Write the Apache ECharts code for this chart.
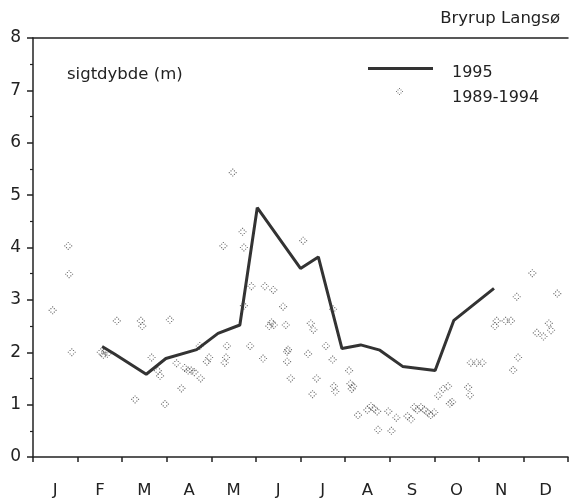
<!DOCTYPE html>
<html>
<head>
<meta charset="utf-8">
<script src="https://cdn.jsdelivr.net/npm/echarts@6/dist/echarts.min.js"></script>
<style>html,body{margin:0;padding:0;background:#fff}#c{width:570px;height:502px}</style>
</head>
<body>
<div id="c"></div>
<script>
var monthLabels = ['J','F','M','A','M','J','J','A','S','O','N','D'];
var yTicks = [0,1,2,3,4,5,6,7,8];
var titleText = 'Bryrup Langsø';
var yLabelText = 'sigtdybde (m)';
var seriesNames = ['1995', '1989-1994'];

// x in months (0 = 1 Jan, 12 = 31 Dec), y = Secchi depth (m)
var line1995 = [
  [1.55,2.11],[1.82,1.97],[2.54,1.58],[2.98,1.88],[3.67,2.05],[4.15,2.36],[4.64,2.52],
  [5.03,4.76],[6.00,3.60],[6.40,3.82],[6.93,2.07],[7.35,2.14],[7.78,2.04],[8.29,1.73],
  [9.02,1.65],[9.44,2.61],[10.34,3.22]
];
var points8994 = [
  [0.44,2.80],[0.79,4.03],[0.81,3.49],[0.87,2.00],
  [1.52,2.00],[1.58,1.95],[1.62,2.02],[1.67,1.97],[1.88,2.60],
  [2.29,1.10],[2.42,2.60],[2.45,2.50],[2.66,1.90],[2.80,1.65],[2.85,1.55],[2.96,1.01],[3.07,2.62],
  [3.22,1.79],[3.33,1.31],[3.40,1.70],[3.48,1.65],[3.55,1.65],[3.62,1.62],[3.74,2.12],[3.76,1.50],[3.90,1.82],[3.95,1.90],
  [4.27,4.03],[4.30,1.80],[4.33,1.90],[4.35,2.12],[4.48,5.43],[4.70,4.30],[4.73,4.00],[4.73,2.89],[4.87,2.12],[4.90,3.26],
  [5.16,1.88],[5.20,3.26],[5.30,2.50],[5.35,2.57],[5.40,2.52],[5.39,3.19],[5.61,2.87],[5.67,2.52],[5.70,2.01],[5.72,2.05],[5.70,1.82],[5.78,1.50],[6.06,4.13],
  [6.17,1.97],[6.23,2.55],[6.29,2.43],[6.27,1.20],[6.36,1.50],[6.57,2.12],[6.72,1.86],[6.73,2.82],[6.75,1.35],[6.78,1.25],[7.09,1.65],
  [7.12,1.40],[7.18,1.35],[7.15,1.30],[7.29,0.80],[7.50,0.90],[7.58,0.97],[7.65,0.92],[7.72,0.87],[7.74,0.52],[7.97,0.87],[8.04,0.50],[8.15,0.75],
  [8.40,0.78],[8.48,0.72],[8.55,0.95],[8.62,0.90],[8.70,0.95],[8.78,0.90],[8.85,0.85],[8.92,0.80],[9.00,0.85],[9.09,1.17],[9.20,1.30],[9.31,1.35],[9.35,1.02],[9.40,1.05],
  [9.76,1.33],[9.80,1.18],[9.82,1.80],[9.95,1.80],[10.08,1.80],
  [10.36,2.50],[10.40,2.60],[10.60,2.60],[10.72,2.60],[10.77,1.66],[10.85,3.06],[10.88,1.90],
  [11.20,3.51],[11.30,2.37],[11.45,2.30],[11.57,2.55],[11.62,2.42],[11.76,3.12]
];

var dotSymbol = 'path://M3,0h1v1h-1zM1.5,1.5h1v1h-1zM4.5,1.5h1v1h-1zM0,3h1v1h-1zM6,3h1v1h-1zM1.5,4.5h1v1h-1zM4.5,4.5h1v1h-1zM3,6h1v1h-1z';
var FONT = 'DejaVu Sans';
var INK = '#222';

var chart = echarts.init(document.getElementById('c'), null, {renderer:'canvas'});
chart.setOption({
  animation: false,
  backgroundColor: '#fff',
  title: [
    { text: titleText, right: 5, top: 5, textStyle: { fontFamily: FONT, fontSize: 16.5, fontWeight: 'normal', color: INK } },
    { text: yLabelText, left: 62, top: 61, textStyle: { fontFamily: FONT, fontSize: 16.5, fontWeight: 'normal', color: INK } }
  ],
  legend: [
    { data: [{ name: seriesNames[0], icon: 'rect' }], left: 363, top: 59.5, itemWidth: 65, itemHeight: 3, orient: 'vertical',
      formatter: function(n){ return '{a|' + n + '}'; },
      textStyle: { fontFamily: FONT, fontSize: 16, color: INK, rich: { a: { fontFamily: FONT, fontSize: 16, color: INK, padding: [8,0,0,14] } } } },
    { data: [seriesNames[1]], left: 391, top: 83, itemWidth: 7, itemHeight: 7, orient: 'vertical',
      formatter: function(n){ return '{a|' + n + '}'; },
      textStyle: { fontFamily: FONT, fontSize: 16, color: INK, rich: { a: { fontFamily: FONT, fontSize: 16, color: INK, padding: [13,0,0,44] } } } }
  ],
  grid: { left: 33, right: 2, top: 38, bottom: 45, containLabel: false },
  xAxis: [
    { type: 'value', min: 0, max: 12, interval: 1, position: 'bottom',
      axisLine: { show: true, onZero: false, lineStyle: { color: INK, width: 1.5 } },
      axisTick: { show: true, inside: false, length: 5, lineStyle: { color: INK, width: 1.5 } },
      axisLabel: { show: false }, splitLine: { show: false } },
    { type: 'category', data: monthLabels, boundaryGap: true, position: 'bottom',
      axisLine: { show: false }, axisTick: { show: false }, splitLine: { show: false },
      axisLabel: { margin: 25, fontFamily: FONT, fontSize: 16.5, color: INK } },
    { type: 'value', min: 0, max: 12, position: 'top',
      axisLine: { show: true, onZero: false, lineStyle: { color: INK, width: 1.5 } },
      axisTick: { show: false }, axisLabel: { show: false }, splitLine: { show: false } }
  ],
  yAxis: {
    type: 'value', min: yTicks[0], max: yTicks[yTicks.length-1], interval: 1,
    axisLine: { show: true, onZero: false, lineStyle: { color: INK, width: 1.5 } },
    axisTick: { show: true, inside: false, length: 6, lineStyle: { color: INK, width: 1.5 } },
    minorTick: { show: true, splitNumber: 2, length: 3, lineStyle: { color: INK, width: 1.2 } },
    axisLabel: { margin: 12, fontFamily: FONT, fontSize: 17, color: INK },
    splitLine: { show: false }
  },
  series: [
    { name: seriesNames[1], type: 'scatter', xAxisIndex: 0, data: points8994,
      symbol: dotSymbol, symbolSize: 8, itemStyle: { color: '#555' }, z: 2 },
    { name: seriesNames[0], type: 'line', xAxisIndex: 0, data: line1995,
      symbol: 'none', showSymbol: false, lineStyle: { color: '#333', width: 3 },
      itemStyle: { color: '#333' }, z: 3 }
  ]
});
</script>
</body>
</html>
